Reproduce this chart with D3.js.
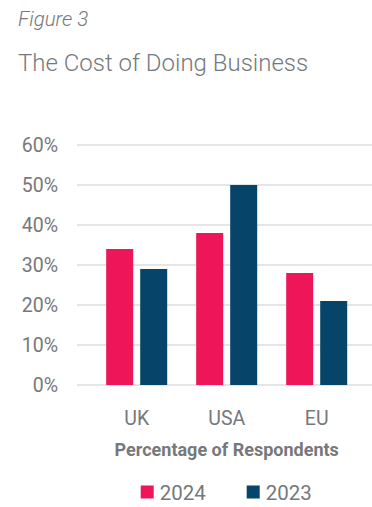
<!DOCTYPE html>
<html>
<head>
<meta charset="utf-8">
<script src="https://cdn.jsdelivr.net/npm/d3@7"></script>
<style>
  html, body { margin: 0; padding: 0; background: #ffffff; }
  svg { display: block; font-family: Roboto, "Noto Sans", sans-serif; }
</style>
</head>
<body>
<svg id="chart" width="372" height="507"></svg>
<script>
const categories = ["UK", "USA", "EU"];
const seriesNames = ["2024", "2023"];
const values2024 = [0.34, 0.38, 0.28];
const values2023 = [0.29, 0.50, 0.21];
const yTicks = [0, 0.1, 0.2, 0.3, 0.4, 0.5, 0.6];

const colors = { "2024": "#ee1558", "2023": "#07446a" };
const textGrey = "#77787b";

const rows = categories.map((c, i) => ({
  category: c,
  "2024": values2024[i],
  "2023": values2023[i]
}));

const svg = d3.select("#chart");

// Headings
svg.append("text")
  .attr("x", 18).attr("y", 26)
  .attr("font-size", 20.5).attr("font-style", "italic").attr("font-weight", 300)
  .attr("fill", textGrey)
  .text("Figure 3");

svg.append("text")
  .attr("x", 18).attr("y", 70.5)
  .attr("font-size", 24).attr("font-weight", 300)
  .attr("fill", textGrey)
  .text("The Cost of Doing Business");

// Scales
const y = d3.scaleLinear().domain([0, 0.6]).range([385, 145]);
const x0 = d3.scaleBand().domain(categories).range([91.7, 361.7]).paddingInner(0).paddingOuter(0);
const x1 = d3.scaleBand().domain(seriesNames).range([14.5, 75.5]).paddingInner(7 / 34).paddingOuter(0);

// Grid and y labels
const yAxis = d3.axisLeft(y)
  .tickValues(yTicks)
  .tickFormat(d3.format(".0%"))
  .tickSize(0)
  .tickPadding(0);

const yG = svg.append("g").attr("transform", "translate(58,0)").call(yAxis);
yG.select(".domain").remove();
yG.selectAll("text")
  .attr("font-size", 19.5).attr("font-family", "Roboto").attr("fill", textGrey);

svg.append("g")
  .selectAll("line")
  .data(yTicks)
  .join("line")
  .attr("x1", 77).attr("x2", 372)
  .attr("y1", d => y(d)).attr("y2", d => y(d))
  .attr("stroke", "#dcdcdc").attr("stroke-width", 1.6);

// Bars
const groups = svg.append("g")
  .selectAll("g")
  .data(rows)
  .join("g")
  .attr("transform", d => `translate(${x0(d.category)},0)`);

groups.selectAll("rect")
  .data(d => seriesNames.map(s => ({ key: s, value: d[s] })))
  .join("rect")
  .attr("x", d => x1(d.key))
  .attr("width", x1.bandwidth())
  .attr("y", d => y(d.value))
  .attr("height", d => y(0) - y(d.value))
  .attr("fill", d => colors[d.key]);

// Category labels
const xAxis = d3.axisBottom(x0).tickSize(0).tickPadding(0);
const xG = svg.append("g").attr("transform", "translate(0,425)").call(xAxis);
xG.select(".domain").remove();
xG.selectAll("text")
  .attr("dy", 0).attr("font-size", 19.5).attr("font-family", "Roboto").attr("fill", textGrey);

// Axis title
svg.append("text")
  .attr("x", 226.7).attr("y", 456)
  .attr("text-anchor", "middle")
  .attr("font-size", 18).attr("font-weight", 700)
  .attr("fill", textGrey)
  .text("Percentage of Respondents");

// Legend
const legendX = [140.7, 246.7];
const legend = svg.append("g")
  .selectAll("g")
  .data(seriesNames)
  .join("g")
  .attr("transform", (d, i) => `translate(${legendX[i]},0)`);

legend.append("rect")
  .attr("x", 0).attr("y", 485.5)
  .attr("width", 13).attr("height", 13)
  .attr("fill", d => colors[d]);

legend.append("text")
  .attr("x", 19).attr("y", 500)
  .attr("font-size", 20.5)
  .attr("fill", textGrey)
  .text(d => d);
</script>
</body>
</html>
